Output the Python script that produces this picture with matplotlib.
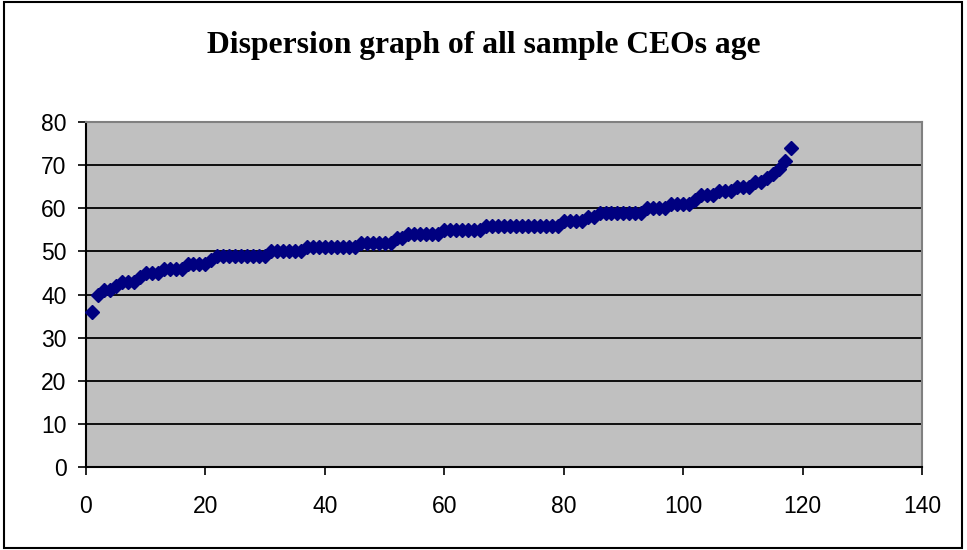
import numpy as np
import matplotlib
matplotlib.use("Agg")
import matplotlib.pyplot as plt
from matplotlib.patches import Rectangle

# CEO ages, sorted, one point per sample CEO
age = np.array([
    36, 40, 41, 41, 42, 43, 43, 43, 44, 45,
    45, 45, 46, 46, 46, 46, 47, 47, 47, 47,
    48, 49, 49, 49, 49, 49, 49, 49, 49, 49,
    50, 50, 50, 50, 50, 50, 51, 51, 51, 51,
    51, 51, 51, 51, 51, 52, 52, 52, 52, 52,
    52, 53, 53, 54, 54, 54, 54, 54, 54, 55,
    55, 55, 55, 55, 55, 55, 56, 56, 56, 56,
    56, 56, 56, 56, 56, 56, 56, 56, 56, 57,
    57, 57, 57, 58, 58, 59, 59, 59, 59, 59,
    59, 59, 59, 60, 60, 60, 60, 61, 61, 61,
    61, 62, 63, 63, 63, 64, 64, 64, 65, 65,
    65, 66, 66, 67, 68, 69, 71, 74])
idx = np.arange(1, len(age) + 1)

xticks = [0, 20, 40, 60, 80, 100, 120, 140]
yticks = [0, 10, 20, 30, 40, 50, 60, 70, 80]

plt.rcParams['font.family'] = ['Liberation Sans', 'DejaVu Sans']

fig = plt.figure(figsize=(9.67, 5.5), dpi=100)
ax = fig.add_axes([86/967, 1 - 467/550, (922 - 86)/967, (467 - 122)/550])

ax.set_facecolor("#c0c0c0")
ax.plot(idx, age, linestyle="none", marker="D", markersize=7.3,
        color="#000080", zorder=3, clip_on=False)

ax.set_xlim(0, 140)
ax.set_ylim(0, 80)
ax.set_xticks(xticks)
ax.set_yticks(yticks)
ax.tick_params(labelsize=16.5, direction="out", length=6, width=1.2, color="black")
ax.tick_params(axis="x", pad=14)
ax.tick_params(axis="y", pad=8)
ax.grid(axis="y", color="black", linewidth=1.3)
ax.set_axisbelow(True)

for s in ["left", "bottom"]:
    ax.spines[s].set_color("black")
    ax.spines[s].set_linewidth(1.5)
for s in ["top", "right"]:
    ax.spines[s].set_color("#808080")
    ax.spines[s].set_linewidth(1.5)

fig.text(0.5, 1 - 45/550, "Dispersion graph of all sample CEOs age",
         ha="center", va="center", fontsize=22.8, fontweight="bold",
         family="Liberation Serif")

fig.patches.append(Rectangle((4/967, 2/550), 958/967, 546/550, transform=fig.transFigure,
                             fill=False, edgecolor="black", linewidth=1.5))

fig.savefig("out.png", dpi=100)
